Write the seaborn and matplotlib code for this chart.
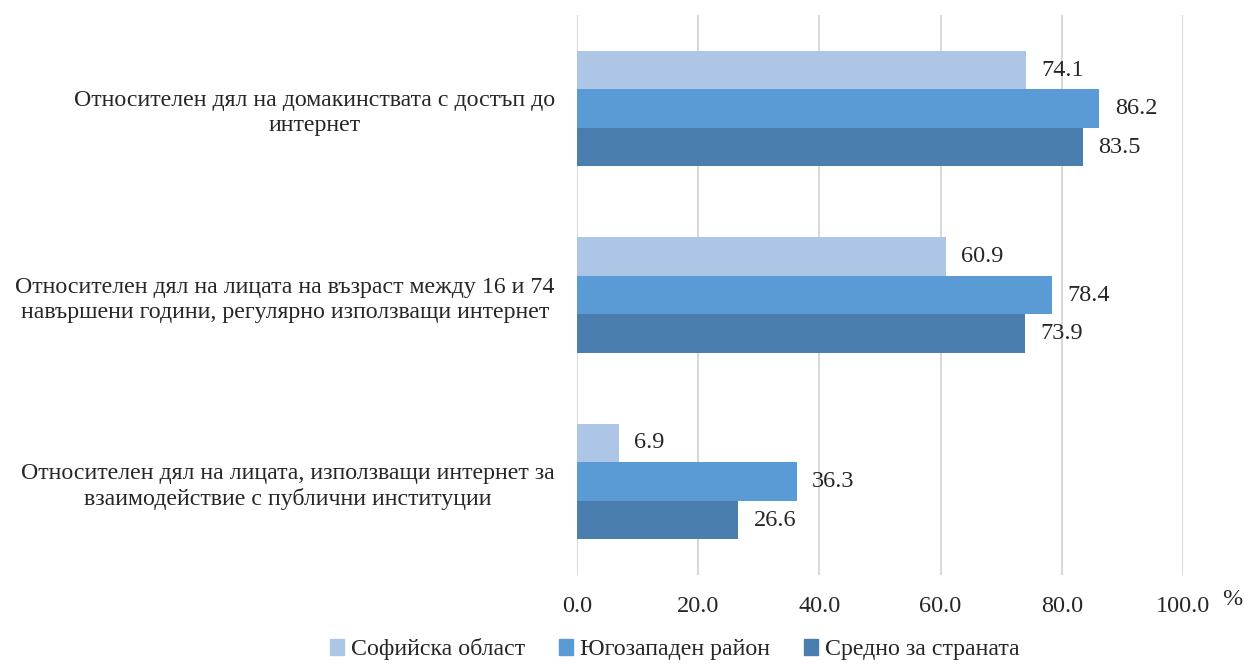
import matplotlib.pyplot as plt
import pandas as pd
import seaborn as sns

categories = [
    "Относителен дял на домакинствата с достъп до\nинтернет",
    "Относителен дял на лицата на възраст между 16 и 74\nнавършени години, регулярно използващи интернет",
    "Относителен дял на лицата, използващи интернет за\nвзаимодействие с публични институции",
]
series_names = ["Софийска област", "Югозападен район", "Средно за страната"]
sofia_obl = [74.1, 60.9, 6.9]
yugozapaden = [86.2, 78.4, 36.3]
sredno = [83.5, 73.9, 26.6]
colors = ["#AEC6E6", "#5B9BD5", "#4A7EAF"]

df = pd.DataFrame({
    "category": categories * 3,
    "series": [s for s in series_names for _ in categories],
    "value": sofia_obl + yugozapaden + sredno,
})

sns.set_theme(style="white")
plt.rcParams["font.family"] = ["Liberation Serif", "DejaVu Serif"]

fig = plt.figure(figsize=(12.45, 6.66), dpi=100)
ax = fig.add_axes([0.4635, 0.137, 0.4867, 0.840])

sns.barplot(data=df, y="category", x="value", hue="series", orient="h",
            palette=colors, width=0.62, gap=0, saturation=1, ax=ax,
            edgecolor="none", linewidth=0)

for cont in ax.containers:
    ax.bar_label(cont, fmt="%.1f", padding=11, fontsize=17.5)

ax.set_xlim(0, 100)
ax.set_ylim(2.5, -0.5)
ax.set_xticks([0, 20, 40, 60, 80, 100])
ax.set_xticklabels([f"{v:.1f}" for v in [0, 20, 40, 60, 80, 100]])
ax.tick_params(axis="x", labelsize=17.5, length=0, pad=15)
ax.tick_params(axis="y", labelsize=17.2, length=0, pad=16)
for lab in ax.get_yticklabels():
    lab.set_multialignment("center")
    lab.set_linespacing(1.25)
ax.grid(axis="x", color="#D9D9D9", linewidth=1.5)
ax.set_axisbelow(True)
for sp in ax.spines.values():
    sp.set_visible(False)
ax.set_xlabel("")
ax.set_ylabel("")
fig.text(0.990, 0.100, "%", fontsize=17.5, ha="center", va="center")

ax.legend_.remove()
handles = [plt.Rectangle((0, 0), 1, 1, color=c) for c in colors]
fig.legend(handles, series_names, loc="lower center", ncol=3, frameon=False,
           fontsize=17.2, bbox_to_anchor=(0.542, -0.024), handlelength=0.6,
           handleheight=0.6, handletextpad=0.3, columnspacing=1.4)

fig.savefig("out.png", dpi=100)
